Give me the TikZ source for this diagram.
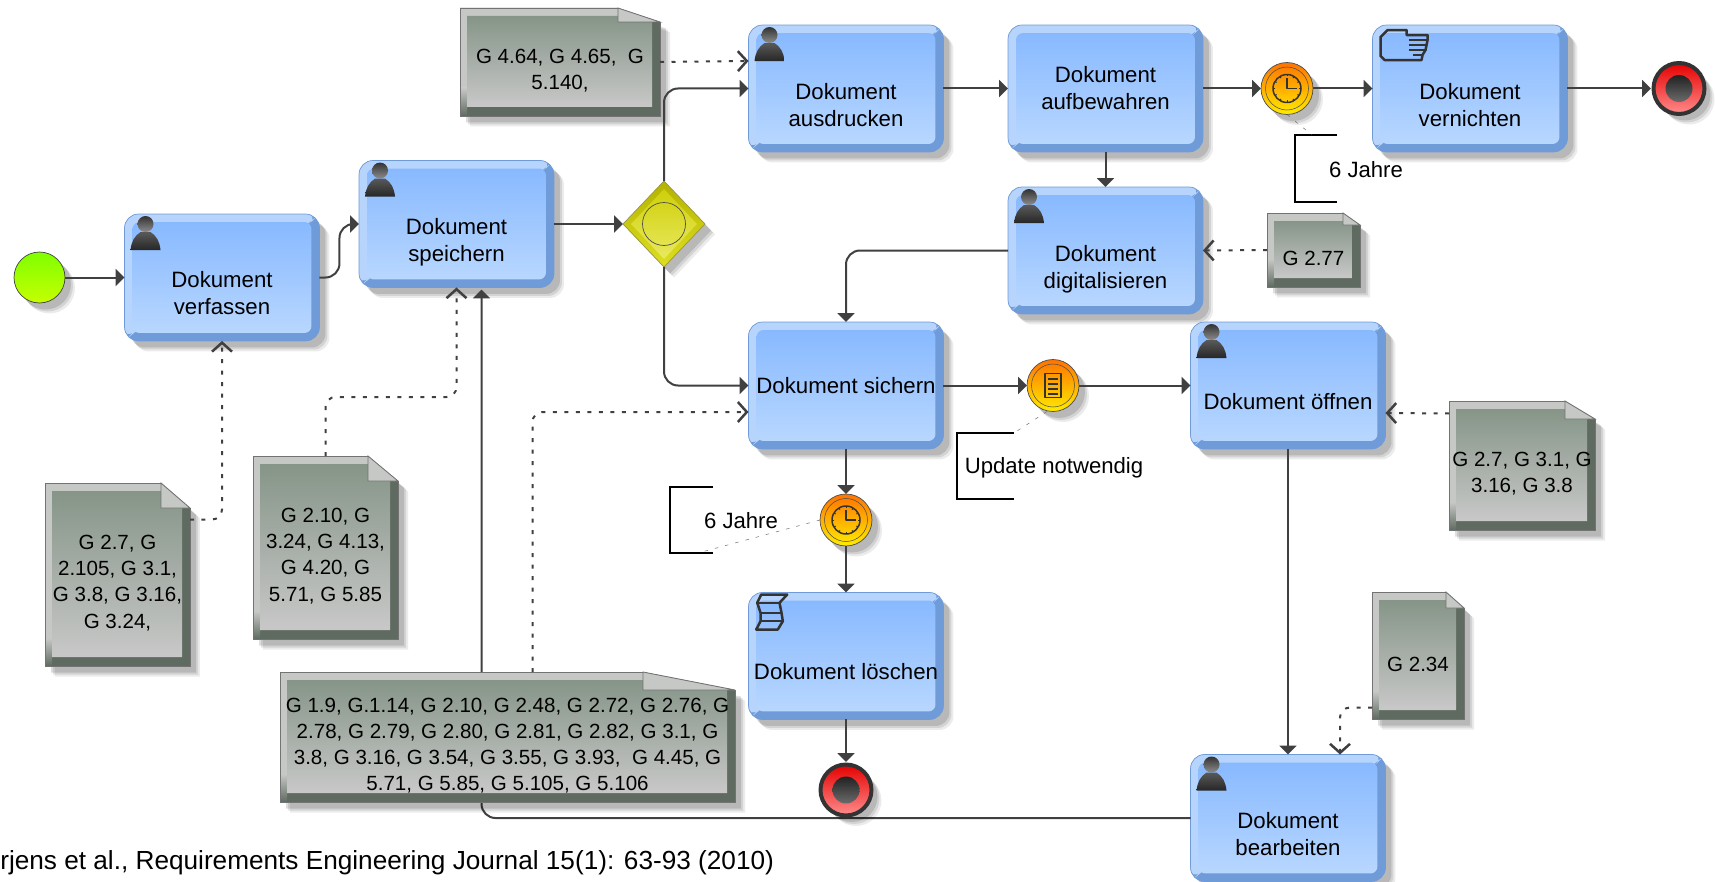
\documentclass[tikz,border=0pt]{standalone}
\usepackage{fontspec}
\setmainfont{Liberation Sans}
\usetikzlibrary{arrows.meta,calc,shapes.geometric,shadows}

\definecolor{taskdark}{HTML}{6F9BD8}
\definecolor{tasklight}{HTML}{B6D4FC}
\definecolor{tasktop}{HTML}{88B9FF}
\definecolor{taskbot}{HTML}{B8D7FF}
\definecolor{notedark}{HTML}{5F6B60}
\definecolor{notelight}{HTML}{C6C8C6}
\definecolor{notetop}{HTML}{869588}
\definecolor{notebot}{HTML}{C8C8C8}
\definecolor{linegray}{HTML}{404040}

\tikzset{
	softshadow/.style={
		drop shadow={shadow xshift=.2cm, shadow yshift=-.21cm, fill=black, opacity=.08},
		drop shadow={shadow xshift=.16cm, shadow yshift=-.17cm, fill=black, opacity=.1},
		drop shadow={shadow xshift=.12cm, shadow yshift=-.13cm, fill=black, opacity=.13}},
	taskbox/.style={rectangle, rounded corners=8pt, minimum width=3.9cm, minimum height=2.54cm, inner sep=0pt, outer sep=0pt, draw=taskdark, fill=taskdark, softshadow,
		path picture={
			\fill[tasklight] (path picture bounding box.south west) -- (path picture bounding box.north west) -- (path picture bounding box.north east) -- ([shift={(-.16cm,-.16cm)}]path picture bounding box.north east) -- ([shift={(.16cm,.16cm)}]path picture bounding box.south west) -- cycle;
			\shade[top color=tasktop, bottom color=taskbot, rounded corners=4pt] ([shift={(.16cm,-.16cm)}]path picture bounding box.north west) rectangle ([shift={(-.16cm,.16cm)}]path picture bounding box.south east);
		}},
	tasklabel/.style={align=center, inner sep=0pt, font=\fontsize{12.65}{15.4}\selectfont},
	notelabel/.style={align=center, inner sep=0pt, font=\fontsize{11.7}{14.9}\selectfont},
	startevent/.style={circle, minimum size=1.02cm, inner sep=0pt, outer sep=0pt, draw=linegray, top color=green!50!yellow!100, bottom color=lime!90!yellow, softshadow},
	endevent/.style={circle, minimum size=1.02cm, inner sep=0pt, outer sep=.05cm, draw=black!80, line width=.08cm, top color=red!90!black!100, bottom color=red!45!white, softshadow,
		path picture={\shade[top color=black, bottom color=black!45] (path picture bounding box.center) circle (.27cm);}},
	midevent/.style={circle, minimum size=1.04cm, inner sep=0pt, outer sep=0pt, draw=black!70, top color=orange!90!red, bottom color=yellow!85!orange, softshadow,
		path picture={\draw[black!70, line width=.3pt] (path picture bounding box.center) circle (.43cm);}},
	gatewaybox/.style={diamond, minimum width=1.64cm, minimum height=1.72cm, inner sep=0pt, outer sep=0pt, draw=yellow!55!black, top color=yellow!70!black, bottom color=yellow!75!gray, softshadow,
		path picture={
			\shade[top color=yellow!80!black, bottom color=yellow!60!white!85!gray] ([yshift=-.16cm]path picture bounding box.north) -- ([xshift=-.16cm]path picture bounding box.east) -- ([yshift=.16cm]path picture bounding box.south) -- ([xshift=.16cm]path picture bounding box.west) -- cycle;
			\draw[black!70, line width=.4pt] (path picture bounding box.center) circle (.43cm);
		}},
	flow/.style={draw=linegray, line width=.04cm, rounded corners=.28cm, -{Triangle[length=.18cm,width=.34cm]}},
	assoc/.style={draw=linegray, line width=.04cm, rounded corners=.2cm, dash pattern=on .08cm off .15cm, -{Straight Barb[length=.18cm,width=.4cm,line width=.05cm]}},
	bracket/.style={draw=black, line width=.05cm},
	annotext/.style={inner sep=0pt, font=\fontsize{12.6}{15}\selectfont},
	annolink/.style={draw=black!55, line width=.3pt, dash pattern=on 2pt off 4pt},
	icon/.style={draw=black!80, line width=.05cm, line join=round},
	personicon/.pic={
		\shade[top color=black!80, bottom color=black!45] (21,10) circle (8);
		\shade[top color=black!65, bottom color=black!85] (6,36) .. controls (7,27) and (10,22) .. (16,18) -- (26,18) .. controls (32,22) and (35,27) .. (36,36) -- cycle;
	},
	handicon/.pic={
		\draw[icon] (15,5) -- (34,5) -- (34,10) -- (55,10) -- (55,15) -- (53,25) -- (50,30) -- (49,35) -- (12,35) -- (8,31) -- (8,12) -- cycle;
		\draw[icon] (36,15) -- (55,15);
		\draw[icon] (36,20) -- (53,20);
		\draw[icon] (36,25) -- (52,25);
		\draw[icon] (40,30) -- (50,30);
	},
	scripticon/.pic={
		\draw[icon] (12.7,2) -- (38.7,2) -- (31,10.3) -- (33,20.3) -- (34.3,28.7) -- (29.3,37) -- (7.7,37) -- (12,28.7) -- (12,20.3) -- (8.7,10.3) -- cycle;
		\draw[icon] (8.7,10.3) -- (31,10.3);
		\draw[icon] (12,20.3) -- (33,20.3);
		\draw[icon] (12,28.7) -- (34.3,28.7);
	},
	clockicon/.pic={
		\draw[icon, line width=.03cm] (0,0) circle (14);
		\foreach \a in {0,30,...,330}
			\draw[icon, line width=.02cm] (\a:12) -- (\a:14);
		\draw[icon, line width=.025cm] (0,-10) -- (0,0) -- (10,0);
	},
	listicon/.pic={
		\draw[icon, line width=.03cm] (-8,-12) rectangle (8,12);
		\foreach \y in {-7,-2,3,8}
			\draw[icon, line width=.04cm] (-5,\y) -- (5,\y);
	},
}

% name, x, y, text shift, text
\newcommand{\tasknode}[5]{
	\node[taskbox] (#1) at (#2,#3) {};
	\node[tasklabel] (#1Text) at (#2,#3+#4) {#5};
}
% name, left, top, right, bottom, fold x, fold y, text
\newcommand{\notedoc}[8]{
	\fill[notedark, softshadow] (#2,#3) -- (#4-#6,#3) -- (#4,#3+#7) -- (#4,#5) -- (#2,#5) -- cycle;
	\fill[notelight] (#2,#5) -- (#2,#3) -- (#4-#6,#3) -- (#4-#6,#3+8) -- (#2+7,#3+8) -- (#2+7,#5-9) -- cycle;
	\shade[top color=notelight, bottom color=notedark] (#2,#5-28) rectangle (#2+7,#5);
	\shade[top color=notetop, bottom color=notebot] (#2+7,#3+8) -- (#4-#6,#3+8) -- (#4-#6,#3+#7) -- (#4-8,#3+#7) -- (#4-8,#5-9) -- (#2+7,#5-9) -- cycle;
	\filldraw[fill=notelight, draw=black!55, line width=.5pt] (#4-#6,#3) -- (#4,#3+#7) -- (#4-#6,#3+#7) -- cycle;
	\draw[black!55, line width=.5pt] (#4-#6,#3) -- (#2,#3) -- (#2,#5) -- (#4,#5) -- (#4,#3+#7);
	\node[minimum width={(#4-#2)*.02cm}, minimum height={(#5-#3)*.02cm}, inner sep=0pt, outer sep=0pt] (#1) at ({(#2+#4)/2},{(#3+#5)/2}) {};
	\node[notelabel] (#1Text) at ({(#2+#4)/2},{(#3+#5)/2+8.5}) {#8};
}

\begin{document}
\begin{tikzpicture}[x=.02cm,y=-.02cm]
	\useasboundingbox (0,0) rectangle (1715,882);

	% tasks
	\tasknode{verfassen}{222}{277.5}{16}{Dokument\\verfassen}
	\tasknode{speichern}{456.5}{224}{18}{Dokument\\speichern}
	\tasknode{ausdrucken}{846}{88.5}{17}{Dokument\\ausdrucken}
	\tasknode{aufbewahren}{1105.5}{88.5}{0}{Dokument\\aufbewahren}
	\tasknode{vernichten}{1470}{88.5}{17}{Dokument\\vernichten}
	\tasknode{digitalisieren}{1105.5}{250.5}{18.5}{Dokument\\digitalisieren}
	\tasknode{sichern}{846}{385.5}{0}{Dokument sichern}
	\tasknode{oeffnen}{1288}{385.5}{16}{Dokument öffnen}
	\tasknode{loeschen}{846}{656}{16}{Dokument löschen}
	\tasknode{bearbeiten}{1288}{818}{16}{Dokument\\bearbeiten}

	% task icons
	\pic at (verfassen.north west) {personicon};
	\pic at (speichern.north west) {personicon};
	\pic at (ausdrucken.north west) {personicon};
	\pic at (digitalisieren.north west) {personicon};
	\pic at (oeffnen.north west) {personicon};
	\pic at (bearbeiten.north west) {personicon};
	\pic at (vernichten.north west) {handicon};
	\pic at (loeschen.north west) {scripticon};

	% rework path runs behind the large note and the end event
	\draw[flow] (bearbeiten.west) -| ($(speichern.south)+(25,2)$);

	% events and gateway
	\node[startevent] (start) at (39.5,277.5) {};
	\node[gatewaybox] (gateway) at (664,224) {};
	\node[midevent] (timerA) at (1287,88.5) {};
	\node[midevent] (timerB) at (846,520) {};
	\node[midevent] (update) at (1053,385.5) {};
	\node[endevent] (endA) at (1679,88.5) {};
	\node[endevent] (endB) at (846,790) {};
	\pic at (timerA) {clockicon};
	\pic at (timerB) {clockicon};
	\pic at (update) {listicon};

	% notes
	\notedoc{noteDruck}{460}{8}{660}{116}{42}{14}{G 4.64, G 4.65,~ G\\5.140,}
	\notedoc{noteDigital}{1267}{213}{1360}{287}{17}{12}{G 2.77}
	\notedoc{noteOeffnen}{1449}{401}{1595}{530}{30}{18}{G 2.7, G 3.1, G\\3.16, G 3.8}
	\notedoc{noteBearbeiten}{1372}{592}{1464}{719}{18}{16}{G 2.34}
	\notedoc{noteVerfassen}{45}{483}{190}{666}{29}{25}{G 2.7, G\\2.105, G 3.1,\\G 3.8, G 3.16,\\G 3.24,}
	\notedoc{noteSpeichern}{253}{456}{398}{639}{30}{25}{G 2.10, G\\3.24, G 4.13,\\G 4.20, G\\5.71, G 5.85}
	\notedoc{noteSichern}{280}{672}{735}{802}{92}{18}{G 1.9, G.1.14, G 2.10, G 2.48, G 2.72, G 2.76, G\\2.78, G 2.79, G 2.80, G 2.81, G 2.82, G 3.1, G\\3.8, G 3.16, G 3.54, G 3.55, G 3.93,~ G 4.45, G\\5.71, G 5.85, G 5.105, G 5.106}

	% sequence flows
	\draw[flow] (start.east) -- (verfassen.west);
	\draw[flow] (verfassen.east) -- ++(20,0) |- (speichern.west);
	\draw[flow] (speichern.east) -- (gateway.west);
	\draw[flow] (gateway.north) |- (ausdrucken.west);
	\draw[flow] (gateway.south) |- (sichern.west);
	\draw[flow] (ausdrucken.east) -- (aufbewahren.west);
	\draw[flow] (aufbewahren.east) -- (timerA.west);
	\draw[flow] (timerA.east) -- (vernichten.west);
	\draw[flow] (vernichten.east) -- (endA.west);
	\draw[flow] (aufbewahren.south) -- (digitalisieren.north);
	\draw[flow] (digitalisieren.west) -| (sichern.north);
	\draw[flow] (sichern.east) -- (update.west);
	\draw[flow] (update.east) -- (oeffnen.west);
	\draw[flow] (sichern.south) -- (timerB.north);
	\draw[flow] (timerB.south) -- (loeschen.north);
	\draw[flow] (loeschen.south) -- (endB.north);
	\draw[flow] (oeffnen.south) -- (bearbeiten.north);

	% associations
	\draw[assoc] (noteDruck.east) -- ($(ausdrucken.west)+(0,-27.5)$);
	\draw[assoc] (noteDigital.west) -- (digitalisieren.east);
	\draw[assoc] ($(noteOeffnen.west)+(0,-52)$) -- ($(oeffnen.east)+(0,27.5)$);
	\draw[assoc] ($(noteBearbeiten.west)+(0,52)$) -| ($(bearbeiten.north)+(52,0)$);
	\draw[assoc] ($(noteVerfassen.east)+(0,-55)$) -| (verfassen.south);
	\draw[assoc] (noteSpeichern.north) -- ++(0,-59) -| (speichern.south);
	\draw[assoc] ($(noteSichern.north)+(25,0)$) |- ($(sichern.west)+(0,26.5)$);

	% annotations
	\draw[bracket] (1337,135) -- (1295,135) -- (1295,202) -- (1337,202);
	\node[annotext] (jahreA) at (1366,170) {6 Jahre};
	\coordinate (bracketA) at (1312,135);
	\draw[annolink] (timerA.south) -- (bracketA);
	\draw[bracket] (713,487) -- (670,487) -- (670,553) -- (713,553);
	\node[annotext] (jahreB) at (741,521) {6 Jahre};
	\coordinate (bracketB) at (698,553);
	\draw[annolink] (timerB.west) -- (bracketB);
	\draw[bracket] (1014,433) -- (957,433) -- (957,499) -- (1014,499);
	\node[annotext] (updateText) at (1054,468) {Update notwendig};
	\coordinate (bracketC) at (1014,433);
	\draw[annolink] ($(update.south)+(-6,0)$) -- (bracketC);

	% source line
	\node[anchor=west, inner sep=0pt, font=\fontsize{14.9}{18}\selectfont] (source) at (0,863) {rjens et al., Requirements Engineering Journal 15(1): 63-93 (2010)};
\end{tikzpicture}
\end{document}
